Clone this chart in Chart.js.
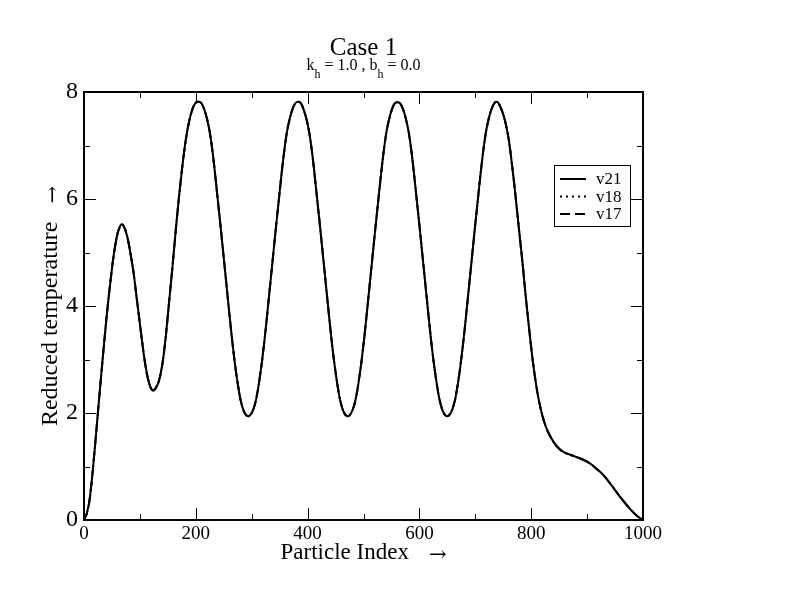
<!DOCTYPE html>
<html>
<head>
<meta charset="utf-8">
<script src="https://cdn.jsdelivr.net/npm/chart.js@4.4.0/dist/chart.umd.min.js"></script>
<style>
  html, body { margin: 0; padding: 0; background: #fff; }
  canvas { display: block; }
</style>
</head>
<body>
<canvas id="chart" width="792" height="612"></canvas>
<script>
// particle index (x) and reduced temperature values
const particleIndex = [
  0, 5, 10, 15, 20, 25, 30, 35, 40, 45, 50, 55, 60, 64, 67, 70, 74, 79, 84, 89, 94, 99, 104, 109, 114, 119, 124,
  128, 134, 140, 146, 152, 158, 164, 170, 176, 182, 188, 194, 200, 205,
  210, 215, 220, 225, 230, 235, 240, 245, 250, 255, 260, 265, 270, 275, 280, 285, 290, 294,
  298, 303, 308, 313, 318, 323, 328, 333, 338, 343, 348, 353, 358, 363, 368, 373, 378, 383,
  388, 393, 398, 403, 408, 413, 418, 423, 428, 433, 438, 443, 448, 453, 458, 463, 468, 472,
  476, 481, 486, 491, 496, 501, 506, 511, 516, 521, 526, 531, 536, 541, 546, 551, 556, 561,
  566, 571, 576, 581, 586, 591, 596, 601, 606, 611, 616, 621, 626, 631, 636, 641, 646, 650,
  654, 659, 664, 669, 674, 679, 684, 689, 694, 699, 704, 709, 714, 719, 724, 729, 734, 739,
  745, 750, 755, 760, 765, 770, 775, 780, 785, 790, 795, 800, 805, 810, 815, 820, 825, 830,
  840, 850, 860, 870, 880, 890, 900, 910, 920, 930, 940, 950, 960, 970, 980, 990, 1000
];

const v21 = [
  0, 0.12, 0.38, 0.85, 1.42, 2.02, 2.62, 3.2, 3.75, 4.25, 4.7, 5.08, 5.35, 5.48, 5.53, 5.51, 5.42, 5.22, 4.93, 4.6, 4.17, 3.75, 3.33, 2.95, 2.66, 2.48, 2.42,
  2.46, 2.6, 2.9, 3.4, 4.05, 4.7, 5.4, 6.05, 6.62, 7.1, 7.45, 7.68, 7.8, 7.82,
  7.79, 7.68, 7.5, 7.25, 6.88, 6.42, 5.92, 5.42, 4.9, 4.38, 3.86, 3.36, 2.92, 2.55, 2.25, 2.06, 1.96, 1.94,
  1.97, 2.07, 2.26, 2.56, 2.93, 3.37, 3.87, 4.39, 4.91, 5.43, 5.93, 6.43, 6.88, 7.25, 7.5, 7.68, 7.79, 7.82,
  7.79, 7.67, 7.49, 7.24, 6.87, 6.41, 5.91, 5.41, 4.89, 4.37, 3.85, 3.35, 2.92, 2.55, 2.25, 2.06, 1.96, 1.94,
  1.97, 2.07, 2.26, 2.56, 2.93, 3.37, 3.87, 4.39, 4.91, 5.43, 5.93, 6.43, 6.88, 7.25, 7.5, 7.68, 7.79, 7.81,
  7.78, 7.67, 7.49, 7.24, 6.87, 6.41, 5.91, 5.41, 4.89, 4.37, 3.85, 3.35, 2.92, 2.55, 2.25, 2.06, 1.96, 1.94,
  1.97, 2.07, 2.26, 2.56, 2.93, 3.37, 3.87, 4.39, 4.91, 5.43, 5.93, 6.43, 6.88, 7.25, 7.5, 7.68, 7.79, 7.82,
  7.72, 7.58, 7.38, 7.1, 6.7, 6.25, 5.75, 5.25, 4.75, 4.2, 3.7, 3.22, 2.8, 2.45, 2.17, 1.95, 1.78, 1.65,
  1.46, 1.33, 1.26, 1.22, 1.18, 1.14, 1.09, 1.02, 0.93, 0.83, 0.7, 0.56, 0.42, 0.29, 0.17, 0.07, 0
];
// the other two runs sit exactly on top of v21 in the figure
const v18 = [...v21];
const v17 = [...v21];

const seriesNames = ['v21', 'v18', 'v17'];
const xTicks = [0, 200, 400, 600, 800, 1000];
const yTicks = [0, 2, 4, 6, 8];
const xTitle = 'Particle Index';
const yTitle = 'Reduced temperature';

const SERIF = "'Liberation Serif', 'Times New Roman', serif";
Chart.defaults.font.family = SERIF;
Chart.defaults.color = '#000';

const toPoints = (ys) => particleIndex.map((x, i) => ({ x, y: ys[i] }));

// frame with inward ticks on all four sides (major + minor)
const frameTicks = {
  id: 'frameTicks',
  afterDatasetsDraw(chart) {
    const { ctx, chartArea: a, scales: { x, y } } = chart;
    ctx.save();
    ctx.strokeStyle = '#000';
    ctx.lineWidth = 1;
    ctx.beginPath();
    const xt = x.ticks.map(t => t.value);
    xt.forEach((v, i) => {
      const marks = [[v, 12]];
      if (i < xt.length - 1) marks.push([(v + xt[i + 1]) / 2, 6]);
      marks.forEach(([val, len]) => {
        const px = Math.round(x.getPixelForValue(val)) + 0.5;
        ctx.moveTo(px, a.bottom); ctx.lineTo(px, a.bottom - len);
        ctx.moveTo(px, a.top); ctx.lineTo(px, a.top + len);
      });
    });
    const yt = y.ticks.map(t => t.value);
    yt.forEach((v, i) => {
      const marks = [[v, 12]];
      if (i < yt.length - 1) marks.push([(v + yt[i + 1]) / 2, 6]);
      marks.forEach(([val, len]) => {
        const py = Math.round(y.getPixelForValue(val)) + 0.5;
        ctx.moveTo(a.left, py); ctx.lineTo(a.left + len, py);
        ctx.moveTo(a.right, py); ctx.lineTo(a.right - len, py);
      });
    });
    ctx.stroke();
    ctx.lineWidth = 2;
    ctx.strokeRect(a.left, a.top, a.right - a.left, a.bottom - a.top);
    ctx.restore();
  }
};

// draws runs of [text, font, dy, gapAfter] centred on (cx, base), optionally rotated
function drawRuns(ctx, runs, cx, base, rotate) {
  ctx.save();
  ctx.fillStyle = '#000';
  ctx.textAlign = 'left';
  ctx.textBaseline = 'alphabetic';
  let total = 0;
  runs.forEach(r => { ctx.font = r[1]; total += ctx.measureText(r[0]).width + (r[3] || 0); });
  ctx.translate(cx, base);
  if (rotate) ctx.rotate(-Math.PI / 2);
  let pos = -total / 2;
  runs.forEach(r => {
    ctx.font = r[1];
    ctx.fillText(r[0], pos, r[2]);
    pos += ctx.measureText(r[0]).width + (r[3] || 0);
  });
  ctx.restore();
}

// subtitle with subscripts and axis titles with arrows
const titleText = {
  id: 'titleText',
  afterDraw(chart) {
    const { ctx, chartArea: a } = chart;
    const big = '16px ' + SERIF, small = '12px ' + SERIF;
    const cx = (a.left + a.right) / 2;
    drawRuns(ctx, [
      ['k', big, 0], ['h', small, 8], [' = 1.0 , b', big, 0], ['h', small, 8], [' = 0.0', big, 0]
    ], cx, a.top - 22.5, false);

    const arrowFont = "21px 'DejaVu Serif', serif";
    drawRuns(ctx, [[xTitle, '23px ' + SERIF, 0, 20], ['\u2192', arrowFont, 2]], cx, a.bottom + 39, false);
    drawRuns(ctx, [[yTitle, '24px ' + SERIF, 0, 18], ['\u2192', arrowFont, 2]], 56.5, (a.top + a.bottom) / 2, true);
  }
};

// boxed legend in the upper right of the plot
const boxLegend = {
  id: 'boxLegend',
  afterDraw(chart) {
    const { ctx, chartArea: a } = chart;
    const left = a.right - 89, top = a.top + 73, w = 76, h = 61;
    ctx.save();
    ctx.fillStyle = '#fff';
    ctx.fillRect(left, top, w, h);
    ctx.strokeStyle = '#000';
    ctx.lineWidth = 1;
    ctx.strokeRect(left + 0.5, top + 0.5, w, h);
    ctx.font = '17px ' + SERIF;
    ctx.textBaseline = 'middle';
    ctx.textAlign = 'left';
    chart.data.datasets.forEach((ds, i) => {
      const cy = top + 14 + i * 17.5;
      ctx.lineWidth = ds.borderWidth;
      ctx.setLineDash(ds.borderDash || []);
      ctx.beginPath();
      ctx.moveTo(left + 6, cy);
      ctx.lineTo(left + 32, cy);
      ctx.stroke();
      ctx.setLineDash([]);
      ctx.fillStyle = '#000';
      ctx.fillText(ds.label, left + 42, cy + 1);
    });
    ctx.restore();
  }
};

const lineStyle = (label, data, dash) => ({
  label,
  data: toPoints(data),
  borderColor: '#000',
  borderWidth: 2,
  borderDash: dash,
  pointRadius: 0,
  cubicInterpolationMode: 'monotone',
  fill: false
});

new Chart(document.getElementById('chart'), {
  type: 'line',
  data: {
    datasets: [
      lineStyle(seriesNames[0], v21, []),
      lineStyle(seriesNames[1], v18, [2, 4]),
      lineStyle(seriesNames[2], v17, [10, 5])
    ]
  },
  options: {
    responsive: false,
    devicePixelRatio: 1,
    animation: false,
    layout: { padding: { left: 0, right: 149, top: 0, bottom: 0 } },
    plugins: {
      legend: { display: false },
      tooltip: { enabled: false },
      title: {
        display: true,
        text: 'Case 1',
        fullSize: false,
        color: '#000',
        font: { family: SERIF, size: 25, weight: 'normal' },
        padding: { top: 33, bottom: 29 }
      }
    },
    scales: {
      x: {
        type: 'linear',
        position: 'bottom',
        min: 0,
        max: 1000,
        afterBuildTicks: (s) => { s.ticks = xTicks.map(value => ({ value })); },
        afterFit: (s) => { s.height = 92; },
        ticks: {
          font: { family: SERIF, size: 19 }, color: '#000', padding: 3, maxRotation: 0,
          callback: (v) => String(v)
        },
        grid: { display: false, drawTicks: false },
        border: { display: false }
      },
      y: {
        type: 'linear',
        min: 0,
        max: 8,
        afterBuildTicks: (s) => { s.ticks = yTicks.map(value => ({ value })); },
        afterFit: (s) => { s.width = 84; },
        ticks: { font: { family: SERIF, size: 24 }, color: '#000', padding: 6, callback: (v) => String(v) },
        grid: { display: false, drawTicks: false },
        border: { display: false }
      }
    }
  },
  plugins: [frameTicks, titleText, boxLegend]
});
</script>
</body>
</html>
